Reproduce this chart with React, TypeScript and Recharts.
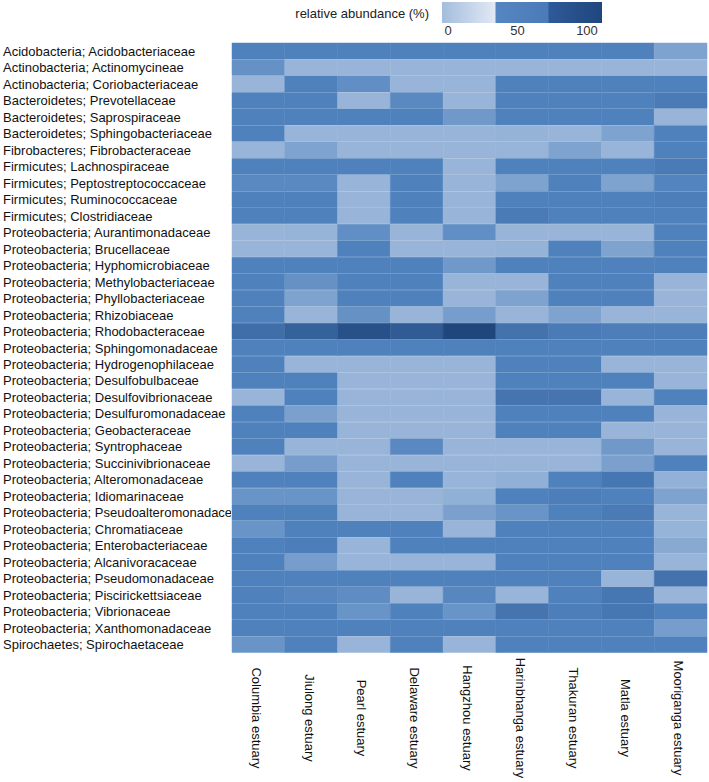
import React from 'react';
import { BarChart, Bar, XAxis, YAxis, Cell } from 'recharts';

const families = [
  'Acidobacteria; Acidobacteriaceae',
  'Actinobacteria; Actinomycineae',
  'Actinobacteria; Coriobacteriaceae',
  'Bacteroidetes; Prevotellaceae',
  'Bacteroidetes; Saprospiraceae',
  'Bacteroidetes; Sphingobacteriaceae',
  'Fibrobacteres; Fibrobacteraceae',
  'Firmicutes; Lachnospiraceae',
  'Firmicutes; Peptostreptococcaceae',
  'Firmicutes; Ruminococcaceae',
  'Firmicutes; Clostridiaceae',
  'Proteobacteria; Aurantimonadaceae',
  'Proteobacteria; Brucellaceae',
  'Proteobacteria; Hyphomicrobiaceae',
  'Proteobacteria; Methylobacteriaceae',
  'Proteobacteria; Phyllobacteriaceae',
  'Proteobacteria; Rhizobiaceae',
  'Proteobacteria; Rhodobacteraceae',
  'Proteobacteria; Sphingomonadaceae',
  'Proteobacteria; Hydrogenophilaceae',
  'Proteobacteria; Desulfobulbaceae',
  'Proteobacteria; Desulfovibrionaceae',
  'Proteobacteria; Desulfuromonadaceae',
  'Proteobacteria; Geobacteraceae',
  'Proteobacteria; Syntrophaceae',
  'Proteobacteria; Succinivibrionaceae',
  'Proteobacteria; Alteromonadaceae',
  'Proteobacteria; Idiomarinaceae',
  'Proteobacteria; Pseudoalteromonadaceae',
  'Proteobacteria; Chromatiaceae',
  'Proteobacteria; Enterobacteriaceae',
  'Proteobacteria; Alcanivoracaceae',
  'Proteobacteria; Pseudomonadaceae',
  'Proteobacteria; Piscirickettsiaceae',
  'Proteobacteria; Vibrionaceae',
  'Proteobacteria; Xanthomonadaceae',
  'Spirochaetes; Spirochaetaceae',
];

const estuaries = [
  'Columbia estuary',
  'Jiulong estuary',
  'Pearl estuary',
  'Delaware estuary',
  'Hangzhou estuary',
  'Harinbhanga estuary',
  'Thakuran estuary',
  'Matla estuary',
  'Mooriganga estuary',
];

// relative abundance (%) per family, one list per estuary
const columbia = [50, 30, 5, 45, 45, 50, 5, 45, 35, 45, 45, 5, 5, 45, 45, 45, 45, 65, 48, 45, 45, 5, 45, 45, 45, 5, 45, 28, 45, 28, 45, 45, 45, 45, 45, 45, 28];
const jiulong = [45, 5, 45, 45, 45, 5, 18, 45, 35, 45, 45, 7, 5, 45, 30, 18, 5, 75, 45, 5, 45, 45, 20, 45, 5, 22, 45, 28, 45, 45, 52, 22, 45, 36, 45, 45, 45];
const pearl = [45, 5, 32, 5, 45, 5, 5, 45, 5, 5, 5, 32, 45, 45, 45, 45, 30, 88, 45, 5, 5, 5, 5, 5, 5, 5, 5, 5, 5, 45, 5, 5, 45, 33, 28, 45, 5];
const delaware = [45, 5, 5, 35, 48, 5, 5, 45, 45, 45, 45, 5, 5, 45, 45, 45, 5, 80, 45, 5, 5, 5, 5, 5, 35, 5, 45, 5, 5, 45, 45, 5, 45, 5, 45, 45, 45];
const hangzhou = [45, 5, 5, 5, 25, 5, 5, 5, 5, 5, 5, 32, 5, 25, 5, 5, 22, 97, 45, 5, 5, 5, 5, 5, 5, 5, 5, 10, 20, 5, 45, 5, 45, 36, 28, 45, 5];
const harinbhanga = [45, 5, 45, 45, 45, 8, 5, 45, 18, 45, 55, 5, 8, 45, 5, 18, 5, 62, 45, 45, 45, 60, 45, 45, 5, 5, 10, 45, 28, 45, 45, 45, 45, 5, 60, 45, 42];
const thakuran = [45, 5, 45, 45, 45, 5, 18, 45, 45, 45, 45, 5, 45, 45, 45, 45, 18, 55, 45, 45, 45, 60, 45, 45, 5, 5, 45, 52, 45, 45, 45, 45, 45, 45, 52, 45, 45];
const matla = [48, 5, 45, 45, 45, 18, 5, 45, 18, 45, 45, 5, 18, 45, 45, 45, 5, 52, 45, 5, 45, 5, 45, 5, 25, 20, 58, 45, 55, 45, 45, 45, 5, 58, 58, 45, 45];
const mooriganga = [18, 5, 45, 55, 5, 45, 45, 55, 38, 52, 45, 45, 45, 45, 5, 5, 5, 52, 45, 5, 5, 45, 5, 5, 5, 45, 9, 18, 5, 7, 14, 5, 62, 5, 45, 22, 45];

const legendTicks = [0, 50, 100];

const series = [columbia, jiulong, pearl, delaware, hangzhou, harinbhanga, thakuran, matla, mooriganga];

const data = families.map((name, i) => {
  const row: Record<string, any> = { name };
  series.forEach((s, j) => {
    row[`u${j}`] = 1;
    row[`v${j}`] = s[i];
  });
  return row;
});

const stops: [number, number[]][] = [
  [0, [156, 185, 219]],
  [8, [149, 179, 215]],
  [40, [79, 129, 189]],
  [50, [79, 129, 189]],
  [100, [28, 66, 121]],
];

const colorFor = (v: number) => {
  for (let k = 1; k < stops.length; k++) {
    const [a, ca] = stops[k - 1];
    const [b, cb] = stops[k];
    if (v <= b) {
      const t = (v - a) / (b - a);
      const c = ca.map((x, i) => Math.round(x + (cb[i] - x) * t));
      return `rgb(${c[0]},${c[1]},${c[2]})`;
    }
  }
  return 'rgb(28,66,121)';
};

const FONT = '"Liberation Sans", Arial, sans-serif';

const FamilyTick = ({ y, payload, index }: any) => (
  <g>
    <clipPath id={`fam-clip-${index}`}>
      <rect x={0} y={y - 10} width={231} height={20} />
    </clipPath>
    <text x={3} y={y} dy={4.5} fontSize={13} fontFamily={FONT} fill="#111" textAnchor="start" clipPath={`url(#fam-clip-${index})`}>
      {payload.value}
    </text>
  </g>
);

const EstuaryTick = ({ x, y, payload }: any) => (
  <text
    transform={`translate(${x - 2},${y + 57}) rotate(90)`}
    textAnchor="middle"
    dominantBaseline="central"
    fontSize={13}
    fontFamily={FONT}
    fill="#111"
  >
    {estuaries[Math.floor(payload.value)]}
  </text>
);

const ColorBar = () => (
  <svg width={709} height={40} style={{ position: 'absolute', left: 0, top: 0 }}>
    <defs>
      <linearGradient id="cb-low" x1="0" y1="0" x2="1" y2="0">
        <stop offset="0%" stopColor="#a3bddd" />
        <stop offset="100%" stopColor="#e2eaf4" />
      </linearGradient>
      <linearGradient id="cb-mid" x1="0" y1="0" x2="1" y2="0">
        <stop offset="0%" stopColor="#5686c1" />
        <stop offset="100%" stopColor="#4a7bb8" />
      </linearGradient>
      <linearGradient id="cb-high" x1="0" y1="0" x2="1" y2="0">
        <stop offset="0%" stopColor="#2e5a98" />
        <stop offset="100%" stopColor="#1f467e" />
      </linearGradient>
    </defs>
    <text x={429} y={13} dominantBaseline="central" textAnchor="end" fontSize={13} fontFamily={FONT} fill="#222">
      relative abundance (%)
    </text>
    <rect x={442} y={2} width={54} height={21} fill="url(#cb-low)" />
    <rect x={495.5} y={2} width={53.5} height={21} fill="url(#cb-mid)" />
    <rect x={548.5} y={2} width={53.5} height={21} fill="url(#cb-high)" />
    {legendTicks.map((t) => (
      <text key={t} x={448 + (t / 100) * 139} y={30} dominantBaseline="central" textAnchor="middle" fontSize={13} fontFamily={FONT} fill="#333">
        {t}
      </text>
    ))}
  </svg>
);

export default function App() {
  return (
    <div style={{ position: 'absolute', left: 0, top: 0, width: 709, height: 782, background: '#fff' }}>
      <BarChart
        width={709}
        height={782}
        data={data}
        layout="vertical"
        margin={{ top: 43, right: 2, bottom: 0, left: 0 }}
        barCategoryGap={0}
        barGap={0}
      >
        <XAxis
          type="number"
          domain={[0, 9]}
          ticks={[0.5, 1.5, 2.5, 3.5, 4.5, 5.5, 6.5, 7.5, 8.5]}
          interval={0}
          height={129}
          axisLine={false}
          tickLine={false}
          tick={<EstuaryTick />}
        />
        <YAxis
          type="category"
          dataKey="name"
          width={232}
          interval={0}
          axisLine={false}
          tickLine={false}
          tick={<FamilyTick />}
        />
        {series.map((_, j) => (
          <Bar key={j} dataKey={`u${j}`} stackId="heat" isAnimationActive={false}>
            {data.map((row, i) => {
              const c = colorFor(row[`v${j}`]);
              return <Cell key={i} fill={c} stroke={c} strokeWidth={0.5} />;
            })}
          </Bar>
        ))}
      </BarChart>
      <ColorBar />
    </div>
  );
}
